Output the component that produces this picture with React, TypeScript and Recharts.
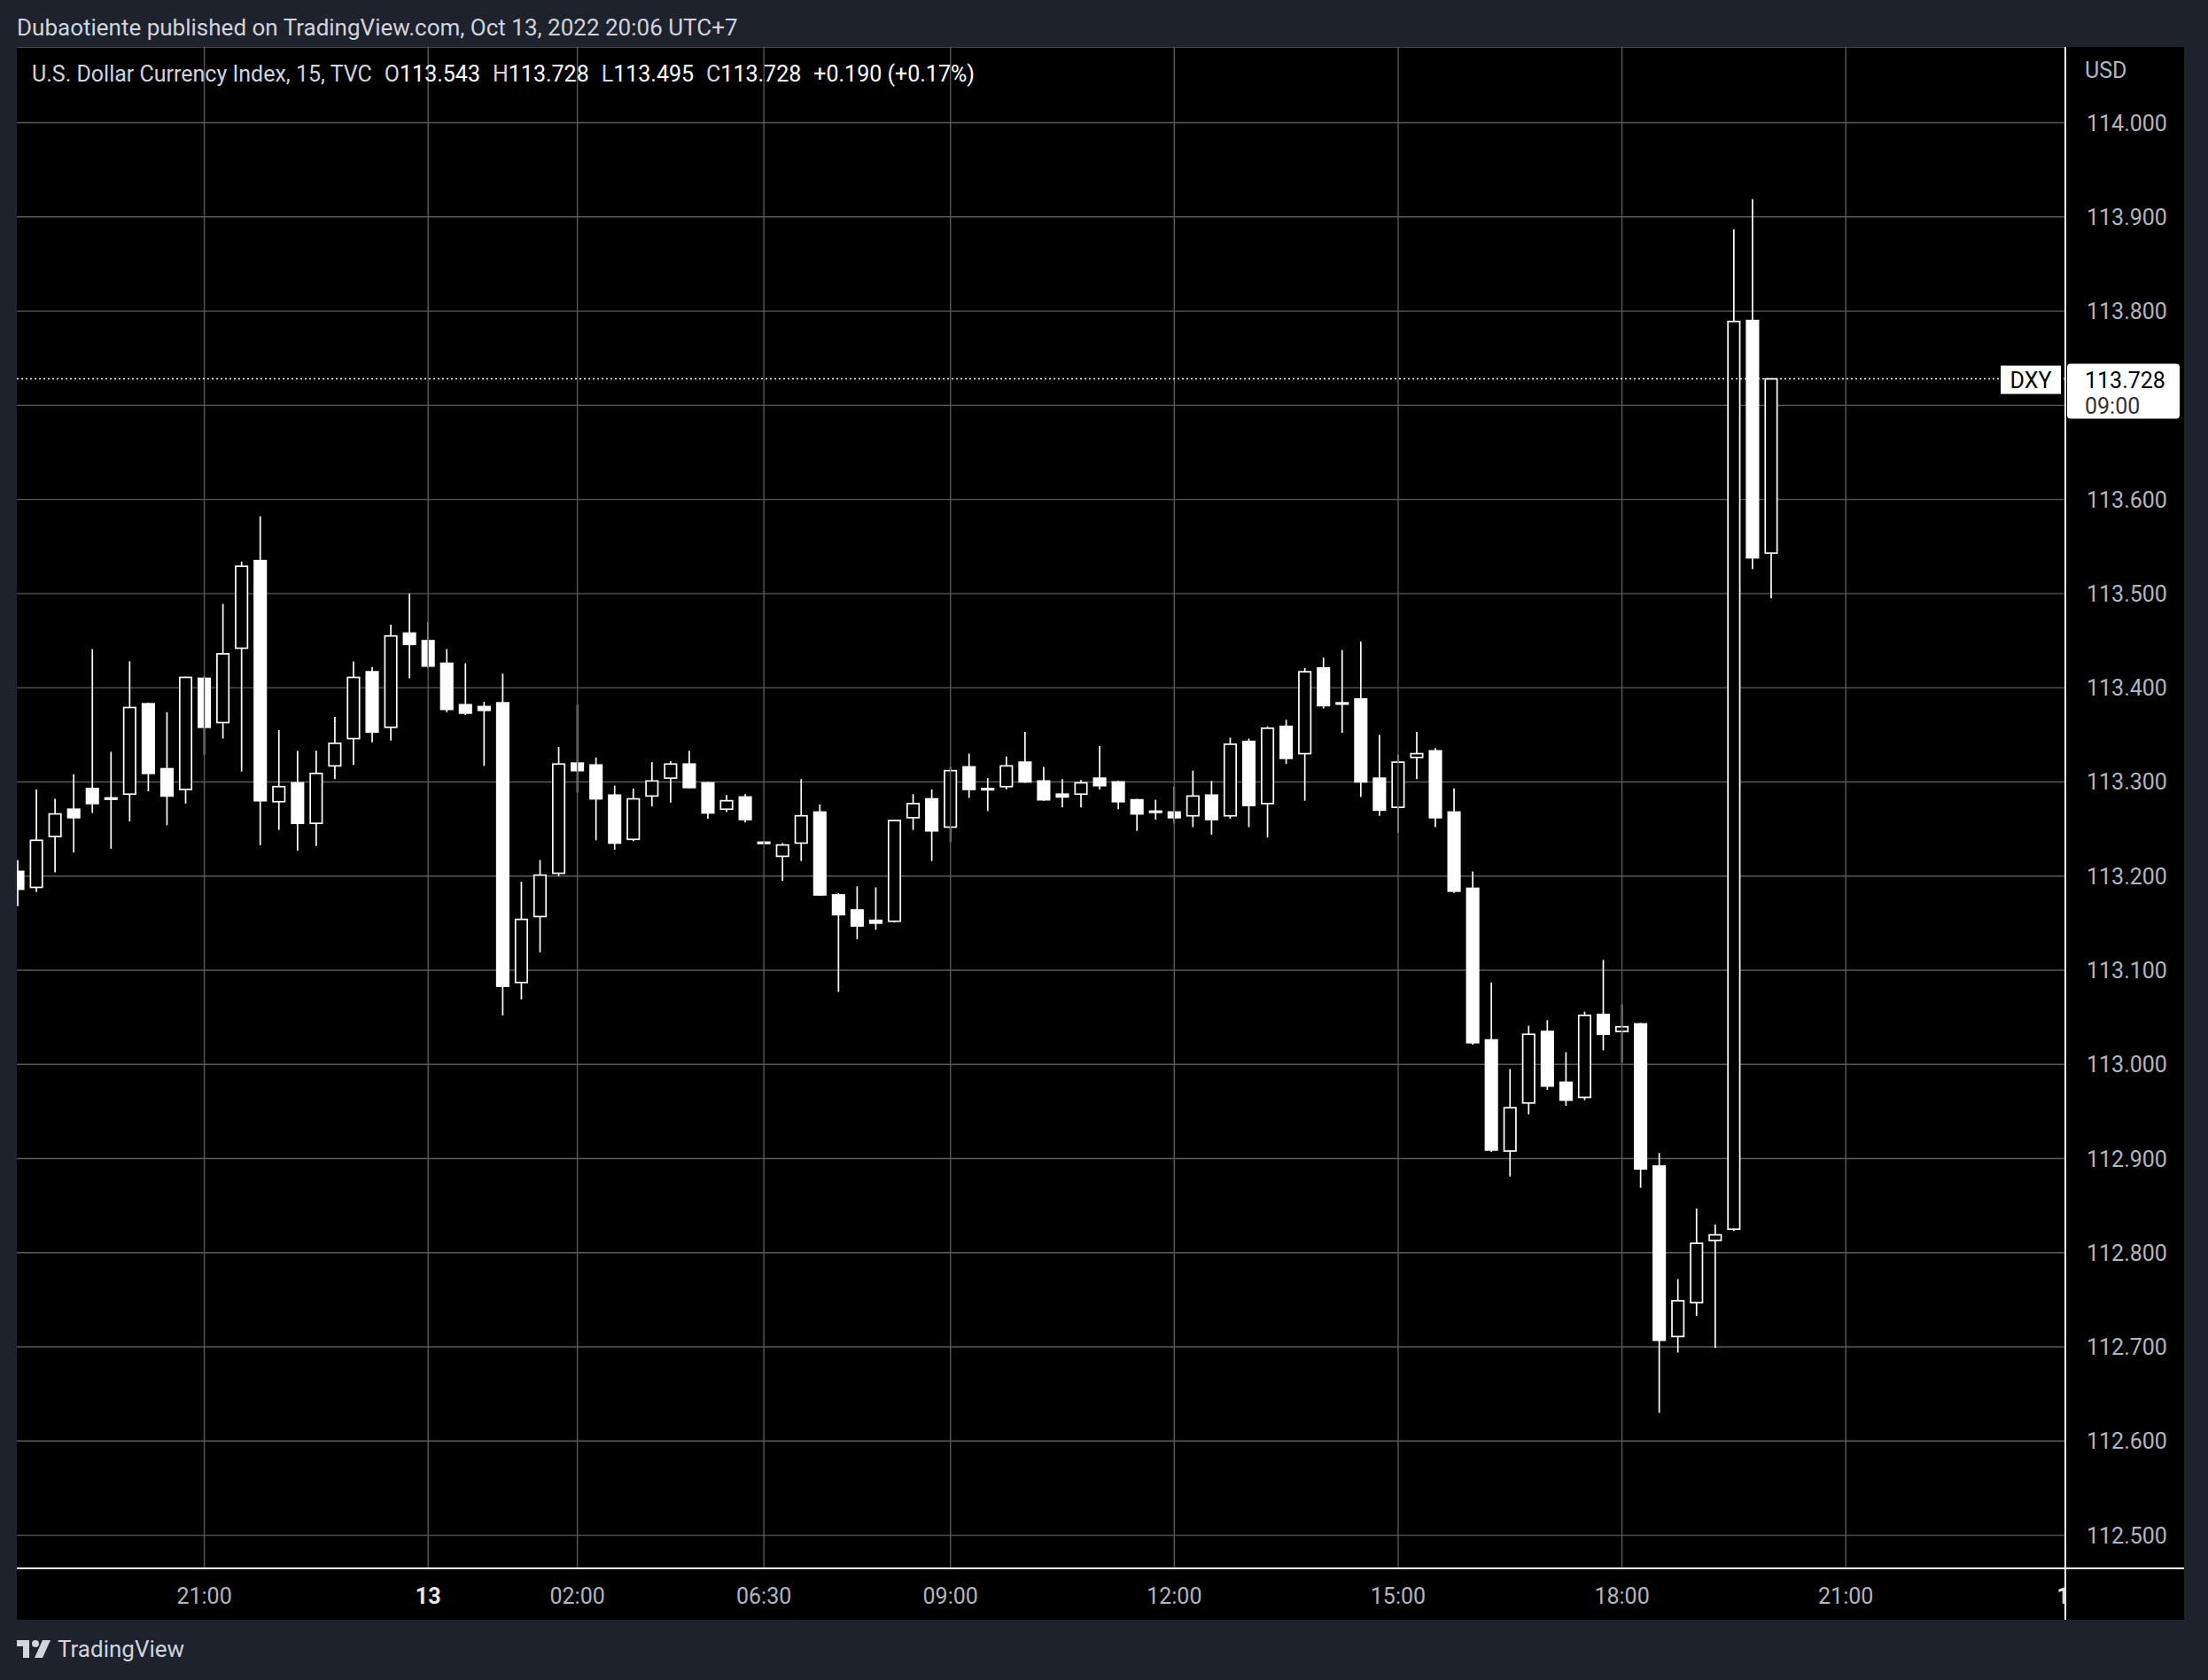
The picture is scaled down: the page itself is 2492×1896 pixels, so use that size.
import React from 'react';
import { ComposedChart, Bar, XAxis, YAxis, CartesianGrid, ReferenceLine } from 'recharts';

// DXY 15m candles (index 0 = 18:30 on Oct 12)
const opens = [
  113.205, 113.188, 113.242, 113.271, 113.293, 113.283, 113.287, 113.383, 113.314, 113.292,
  113.410, 113.363, 113.442, 113.535, 113.279, 113.299, 113.256, 113.317, 113.346, 113.417,
  113.358, 113.458, 113.450, 113.426, 113.382, 113.380, 113.384, 113.087, 113.157, 113.203,
  113.320, 113.318, 113.286, 113.239, 113.285, 113.304, 113.319, 113.299, 113.271, 113.284,
  113.236, 113.221, 113.235, 113.268, 113.180, 113.164, 113.153, 113.152, 113.262, 113.282,
  113.252, 113.316, 113.293, 113.295, 113.321, 113.301, 113.287, 113.287, 113.304, 113.300,
  113.281, 113.269, 113.268, 113.264, 113.286, 113.264, 113.343, 113.277, 113.359, 113.330,
  113.421, 113.384, 113.388, 113.304, 113.273, 113.326, 113.333, 113.268, 113.187, 113.026,
  112.908, 112.959, 113.035, 112.981, 112.965, 113.053, 113.035, 113.043, 112.892, 112.711,
  112.747, 112.813, 112.825, 113.790, 113.543,
];
const highs = [
  113.217, 113.292, 113.282, 113.308, 113.441, 113.332, 113.428, 113.384, 113.374, 113.412,
  113.412, 113.489, 113.534, 113.582, 113.355, 113.333, 113.333, 113.369, 113.428, 113.422,
  113.467, 113.500, 113.470, 113.441, 113.426, 113.385, 113.415, 113.194, 113.217, 113.337,
  113.382, 113.326, 113.296, 113.293, 113.321, 113.322, 113.333, 113.300, 113.286, 113.287,
  113.237, 113.235, 113.303, 113.276, 113.182, 113.189, 113.188, 113.260, 113.287, 113.292,
  113.316, 113.330, 113.304, 113.327, 113.353, 113.316, 113.303, 113.302, 113.338, 113.301,
  113.282, 113.281, 113.295, 113.312, 113.301, 113.347, 113.346, 113.359, 113.366, 113.421,
  113.432, 113.440, 113.449, 113.350, 113.329, 113.353, 113.336, 113.293, 113.205, 113.087,
  112.995, 113.041, 113.047, 113.013, 113.056, 113.111, 113.064, 113.044, 112.906, 112.772,
  112.847, 112.830, 113.887, 113.919, 113.728,
];
const lows = [
  113.168, 113.183, 113.204, 113.225, 113.267, 113.229, 113.258, 113.290, 113.254, 113.277,
  113.329, 113.346, 113.311, 113.233, 113.249, 113.227, 113.232, 113.303, 113.318, 113.342,
  113.344, 113.410, 113.421, 113.374, 113.371, 113.317, 113.052, 113.069, 113.119, 113.200,
  113.289, 113.238, 113.228, 113.237, 113.274, 113.278, 113.293, 113.261, 113.268, 113.257,
  113.234, 113.195, 113.216, 113.179, 113.077, 113.133, 113.143, 113.151, 113.249, 113.216,
  113.236, 113.283, 113.269, 113.292, 113.299, 113.280, 113.273, 113.273, 113.292, 113.271,
  113.248, 113.260, 113.256, 113.252, 113.244, 113.261, 113.252, 113.241, 113.319, 113.280,
  113.378, 113.352, 113.284, 113.264, 113.246, 113.303, 113.252, 113.182, 113.021, 112.907,
  112.881, 112.947, 112.973, 112.956, 112.962, 113.015, 113.002, 112.869, 112.630, 112.694,
  112.733, 112.699, 112.823, 113.526, 113.495,
];
const closes = [
  113.186, 113.238, 113.266, 113.262, 113.277, 113.282, 113.379, 113.309, 113.285, 113.411,
  113.358, 113.436, 113.529, 113.280, 113.295, 113.256, 113.309, 113.341, 113.411, 113.353,
  113.455, 113.446, 113.423, 113.377, 113.373, 113.376, 113.083, 113.154, 113.201, 113.319,
  113.312, 113.282, 113.235, 113.282, 113.301, 113.319, 113.294, 113.267, 113.280, 113.260,
  113.235, 113.233, 113.264, 113.180, 113.159, 113.147, 113.150, 113.259, 113.277, 113.248,
  113.312, 113.292, 113.292, 113.317, 113.300, 113.281, 113.284, 113.299, 113.296, 113.279,
  113.266, 113.268, 113.262, 113.285, 113.260, 113.340, 113.275, 113.357, 113.325, 113.417,
  113.381, 113.383, 113.300, 113.270, 113.321, 113.330, 113.262, 113.184, 113.023, 112.909,
  112.954, 113.032, 112.977, 112.962, 113.052, 113.032, 113.040, 112.889, 112.707, 112.749,
  112.810, 112.819, 113.789, 113.538, 113.728,
];

const priceTicks = [
  112.5, 112.6, 112.7, 112.8, 112.9, 113.0, 113.1, 113.2,
  113.3, 113.4, 113.5, 113.6, 113.7, 113.8, 113.9, 114.0,
];
const timeTickIndex = [10, 22, 30, 40, 50, 62, 74, 86, 98, 110];
const timeTickLabels = ['21:00', '13', '02:00', '06:30', '09:00', '12:00', '15:00', '18:00', '21:00', '14'];
const dayLabels = ['13', '14'];

const symbol = 'DXY';
const lastClose = 113.728;
const countdown = '09:00';

const W = 2446;
const H = 1775;
const FONT = 'Roboto, "Liberation Sans", sans-serif';
const GRID = '#5a5a5a';

const data = opens.map((o, i) => ({
  i,
  open: o,
  high: highs[i],
  low: lows[i],
  close: closes[i],
}));

const Candle = (props: any) => {
  const { x, y, width, height, payload } = props;
  if (!payload) return null;
  const top = Math.min(y, y + height);
  const bot = Math.max(y, y + height);
  const span = payload.high - payload.low;
  const k = span > 0 ? (bot - top) / span : 0;
  const py = (v: number) => top + (payload.high - v) * k;
  const cx = x + width / 2;
  const up = payload.close >= payload.open;
  const bt = py(Math.max(payload.open, payload.close));
  const bb = py(Math.min(payload.open, payload.close));
  const bh = Math.max(bb - bt, 1.5);
  return (
    <g>
      <line x1={cx} x2={cx} y1={top} y2={bot} stroke="#fff" strokeWidth={1.7} />
      <rect
        x={x + 0.8}
        y={bt}
        width={width - 1.6}
        height={bh}
        fill={up ? '#000' : '#fff'}
        stroke="#fff"
        strokeWidth={1.7}
      />
    </g>
  );
};

const PriceTick = (props: any) => {
  const { x, y, payload } = props;
  // the last-price tag covers the nearby label
  if (Math.abs(payload.value - lastClose) < 0.035) return null;
  return (
    <text x={x + 22} y={y} dy="0.36em" fill="#b2b5be" fontSize={25} fontFamily={FONT} textAnchor="start">
      {Number(payload.value).toFixed(3)}
    </text>
  );
};

const TimeTick = (props: any) => {
  const { x, y, payload } = props;
  const idx = timeTickIndex.indexOf(payload.value);
  const label = timeTickLabels[idx];
  const isDay = dayLabels.includes(label);
  const t = (
    <text
      x={40}
      y={29}
      dy="0.36em"
      fill={isDay ? '#e8e8e8' : '#b2b5be'}
      fontWeight={isDay ? 700 : 400}
      fontSize={25}
      fontFamily={FONT}
      textAnchor="middle"
    >
      {label}
    </text>
  );
  // last label sits past the price scale edge and is cut off there
  const clipW = idx === timeTickIndex.length - 1 ? 34 : 80;
  return (
    <svg x={x - 40} y={y} width={clipW} height={58} overflow="hidden">
      {t}
    </svg>
  );
};

const PriceTag = (props: any) => {
  const vb = props.viewBox || {};
  const right = vb.x + vb.width;
  const y = vb.y;
  return (
    <g>
      <rect x={right - 73} y={y - 15} width={68} height={32} fill="#fff" />
      <text x={right - 39} y={y + 1} dy="0.36em" fill="#000" fontSize={25} fontFamily={FONT} textAnchor="middle">
        {symbol}
      </text>
      <rect x={right + 2} y={y - 17} width={127} height={62} rx={4} fill="#fff" />
      <text x={right + 22} y={y + 1} dy="0.36em" fill="#000" fontSize={25} fontFamily={FONT}>
        {lastClose.toFixed(3)}
      </text>
      <text x={right + 22} y={y + 30} dy="0.36em" fill="#333" fontSize={25} fontFamily={FONT}>
        {countdown}
      </text>
    </g>
  );
};

const TvLogo = () => (
  <svg width={40} height={24} viewBox="0 0 40 24">
    <path d="M0 2h14v20H7V9H0z" fill="#d1d4dc" />
    <circle cx={21} cy={6} r={4} fill="#d1d4dc" />
    <path d="M29 2h9l-9 20h-9z" fill="#d1d4dc" />
  </svg>
);

export default function App() {
  const valueStyle = { color: '#ffffff' };
  return (
    <div
      style={{
        position: 'absolute',
        left: 0,
        top: 0,
        width: 2492,
        height: 1896,
        background: '#1e222d',
        fontFamily: FONT,
        overflow: 'hidden',
      }}
    >
      <div style={{ position: 'absolute', left: 19, top: 14, fontSize: 26, color: '#d1d4dc', lineHeight: '34px' }}>
        Dubaotiente published on TradingView.com, Oct 13, 2022 20:06 UTC+7
      </div>

      <div style={{ position: 'absolute', left: 19, top: 53, width: W, height: H, background: '#000' }}>
        <ComposedChart width={W} height={H} data={data} margin={{ top: 0, right: 0, bottom: 0, left: 0 }}>
          <CartesianGrid vertical={false} stroke={GRID} strokeWidth={1.4} />
          {timeTickIndex.slice(0, -1).map((t) => (
            <ReferenceLine key={t} x={t} stroke={GRID} strokeWidth={1.4} />
          ))}
          <XAxis
            type="number"
            dataKey="i"
            domain={[-0.05, 109.77]}
            allowDataOverflow
            ticks={timeTickIndex}
            interval={0}
            height={58}
            tickLine={false}
            tickSize={0}
            axisLine={{ stroke: '#fff', strokeWidth: 2 }}
            tick={<TimeTick />}
          />
          <YAxis
            orientation="right"
            type="number"
            domain={[112.4648, 114.0805]}
            allowDataOverflow
            ticks={priceTicks}
            interval={0}
            width={134}
            tickLine={false}
            tickSize={0}
            axisLine={{ stroke: '#fff', strokeWidth: 2 }}
            tick={<PriceTick />}
          />
          <Bar
            dataKey={(d: any) => [d.low, d.high]}
            barSize={15}
            shape={<Candle />}
            isAnimationActive={false}
          />
          <ReferenceLine
            y={lastClose}
            stroke="#fff"
            strokeWidth={1.5}
            strokeDasharray="2 3"
            label={<PriceTag />}
          />
        </ComposedChart>

        {/* axis line extensions into the scale corners */}
        <div style={{ position: 'absolute', left: W - 134, top: H - 59, width: 134, height: 2, background: '#fff' }} />
        <div style={{ position: 'absolute', left: W - 135, top: H - 58, width: 2, height: 58, background: '#fff' }} />

        <div style={{ position: 'absolute', left: W - 112, top: 12, fontSize: 25, color: '#b2b5be', lineHeight: '30px' }}>
          USD
        </div>

        <div
          style={{
            position: 'absolute',
            left: 17,
            top: 15,
            fontSize: 25,
            color: '#d1d4dc',
            lineHeight: '32px',
            whiteSpace: 'pre',
            display: 'flex',
            gap: 14,
          }}
        >
          <span>U.S. Dollar Currency Index, 15, TVC</span>
          <span>O<span style={valueStyle}>113.543</span></span>
          <span>H<span style={valueStyle}>113.728</span></span>
          <span>L<span style={valueStyle}>113.495</span></span>
          <span>C<span style={valueStyle}>113.728</span></span>
          <span style={valueStyle}>+0.190 (+0.17%)</span>
        </div>
      </div>

      <div
        style={{
          position: 'absolute',
          left: 19,
          top: 1846,
          display: 'flex',
          alignItems: 'center',
          gap: 6,
          color: '#d1d4dc',
          fontSize: 26,
        }}
      >
        <TvLogo />
        <span>TradingView</span>
      </div>
    </div>
  );
}
